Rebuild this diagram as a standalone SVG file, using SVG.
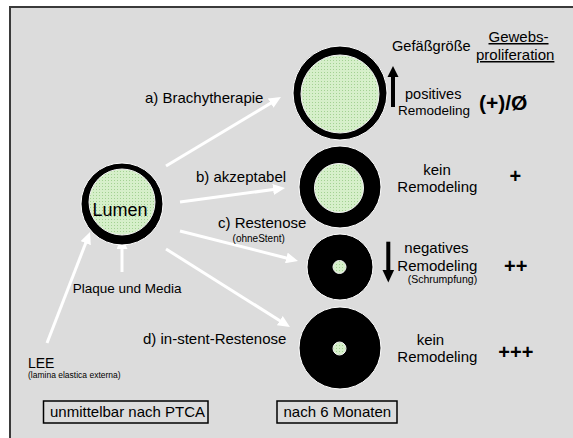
<svg xmlns="http://www.w3.org/2000/svg" width="573" height="438" viewBox="0 0 573 438">
<style>
text{font-family:"Liberation Sans",Arial,sans-serif;fill:#000}
.t15{font-size:15px}
.b{font-weight:bold;font-size:20px}
.ring{fill:#000;stroke:#fff;stroke-width:1}
.lum{fill:url(#dots);stroke:#f4f4f4;stroke-width:1}
.wa{stroke:#fff;stroke-width:3;fill:none;marker-end:url(#wh)}
.u{text-decoration:underline}
</style>
<defs>
<pattern id="dots" patternUnits="userSpaceOnUse" width="3" height="3">
<rect width="3" height="3" fill="#d6efca"/>
<rect width="1" height="1" fill="#a3d193"/>
</pattern>
<marker id="wh" markerUnits="userSpaceOnUse" markerWidth="12" markerHeight="11" refX="2" refY="5.5" orient="auto" viewBox="0 0 12 11">
<path d="M0,0 L12,5.5 L0,11 z" fill="#fff"/>
</marker>
</defs>
<rect x="0" y="0" width="573" height="438" fill="#fff"/>
<rect x="10" y="7" width="600" height="500" fill="#dcdcdc" stroke="#3a3a3a" stroke-width="2"/>

<g id="connectors">
<line class="wa" x1="166" y1="166" x2="272.4" y2="102.1"/>
<line class="wa" x1="180" y1="202" x2="275.1" y2="189.3"/>
<line class="wa" x1="180" y1="231" x2="288.3" y2="258.5"/>
<line class="wa" x1="166" y1="249" x2="281.5" y2="321.7"/>
<line class="wa" x1="47" y1="343" x2="86.4" y2="241.3"/>
<line class="wa" x1="122" y1="272" x2="122" y2="247"/>
</g>

<g id="lumen">
<circle class="ring" cx="122" cy="204" r="41"/>
<circle class="lum" cx="122" cy="202" r="33"/>
<text x="120" y="216" text-anchor="middle" style="font-size:18px">Lumen</text>
</g>

<g id="vessel-a">
<circle class="ring" cx="340" cy="93" r="47"/>
<circle class="lum" cx="340" cy="94" r="39"/>
</g>
<g id="vessel-b">
<circle class="ring" cx="340" cy="187" r="41"/>
<circle class="lum" cx="339" cy="188" r="24.5"/>
</g>
<g id="vessel-c">
<circle class="ring" cx="340" cy="267" r="33"/>
<circle class="lum" cx="339.5" cy="267" r="6.5"/>
</g>
<g id="vessel-d">
<circle class="ring" cx="340" cy="348" r="41"/>
<circle class="lum" cx="339.5" cy="348.5" r="6.5"/>
</g>

<g id="labels-left">
<text class="t15" x="145" y="103">a) Brachytherapie</text>
<text class="t15" x="196" y="182">b) akzeptabel</text>
<text class="t15" x="218" y="228">c) Restenose</text>
<text x="258.7" y="242" text-anchor="middle" style="font-size:10px">(ohneStent)</text>
<text class="t15" x="143" y="344">d) in-stent-Restenose</text>
<text x="72.7" y="293" style="font-size:13.5px">Plaque und Media</text>
<text x="28" y="368" style="font-size:14px">LEE</text>
<text x="28" y="377.5" style="font-size:8.5px">(lamina elastica externa)</text>
</g>

<g id="box-ptca">
<rect x="43.5" y="401" width="164.5" height="22" fill="none" stroke="#000" stroke-width="1.5"/>
<text class="t15" x="50" y="417">unmittelbar nach PTCA</text>
</g>
<g id="box-6m">
<rect x="277" y="401" width="120" height="22" fill="none" stroke="#000" stroke-width="1.5"/>
<text class="t15" x="283.5" y="417">nach 6 Monaten</text>
</g>

<g id="header">
<text x="392" y="51" style="font-size:14.6px">Gefäßgröße</text>
<text class="t15 u" x="488.5" y="42">Gewebs-</text>
<text class="t15 u" x="476" y="60">proliferation</text>
</g>

<g id="row-a">
<rect x="391" y="76" width="4" height="31" fill="#000"/>
<polygon points="393,66 398.5,77 387.5,77" fill="#000"/>
<text x="405" y="99" style="font-size:14.5px">positives</text>
<text x="398" y="115" style="font-size:13.5px">Remodeling</text>
<text class="b" x="479" y="110" style="font-size:21px">(+)/Ø</text>
</g>
<g id="row-b">
<text class="t15" x="437" y="175" text-anchor="middle">kein</text>
<text class="t15" x="397.3" y="191.7">Remodeling</text>
<text class="b" x="515.3" y="183" text-anchor="middle">+</text>
</g>
<g id="row-c">
<rect x="386.3" y="241.7" width="4" height="29" fill="#000"/>
<polygon points="382.5,270 394.1,270 388.3,282.5" fill="#000"/>
<text class="t15" x="404.3" y="253.3">negatives</text>
<text class="t15" x="397.3" y="270.7">Remodeling</text>
<text x="407.7" y="283.3" style="font-size:10.5px">(Schrumpfung)</text>
<text class="b" x="504" y="272.5">++</text>
</g>
<g id="row-d">
<text class="t15" x="416.7" y="345">kein</text>
<text class="t15" x="397.3" y="362.3">Remodeling</text>
<text class="b" x="498.3" y="358.5">+++</text>
</g>
</svg>
